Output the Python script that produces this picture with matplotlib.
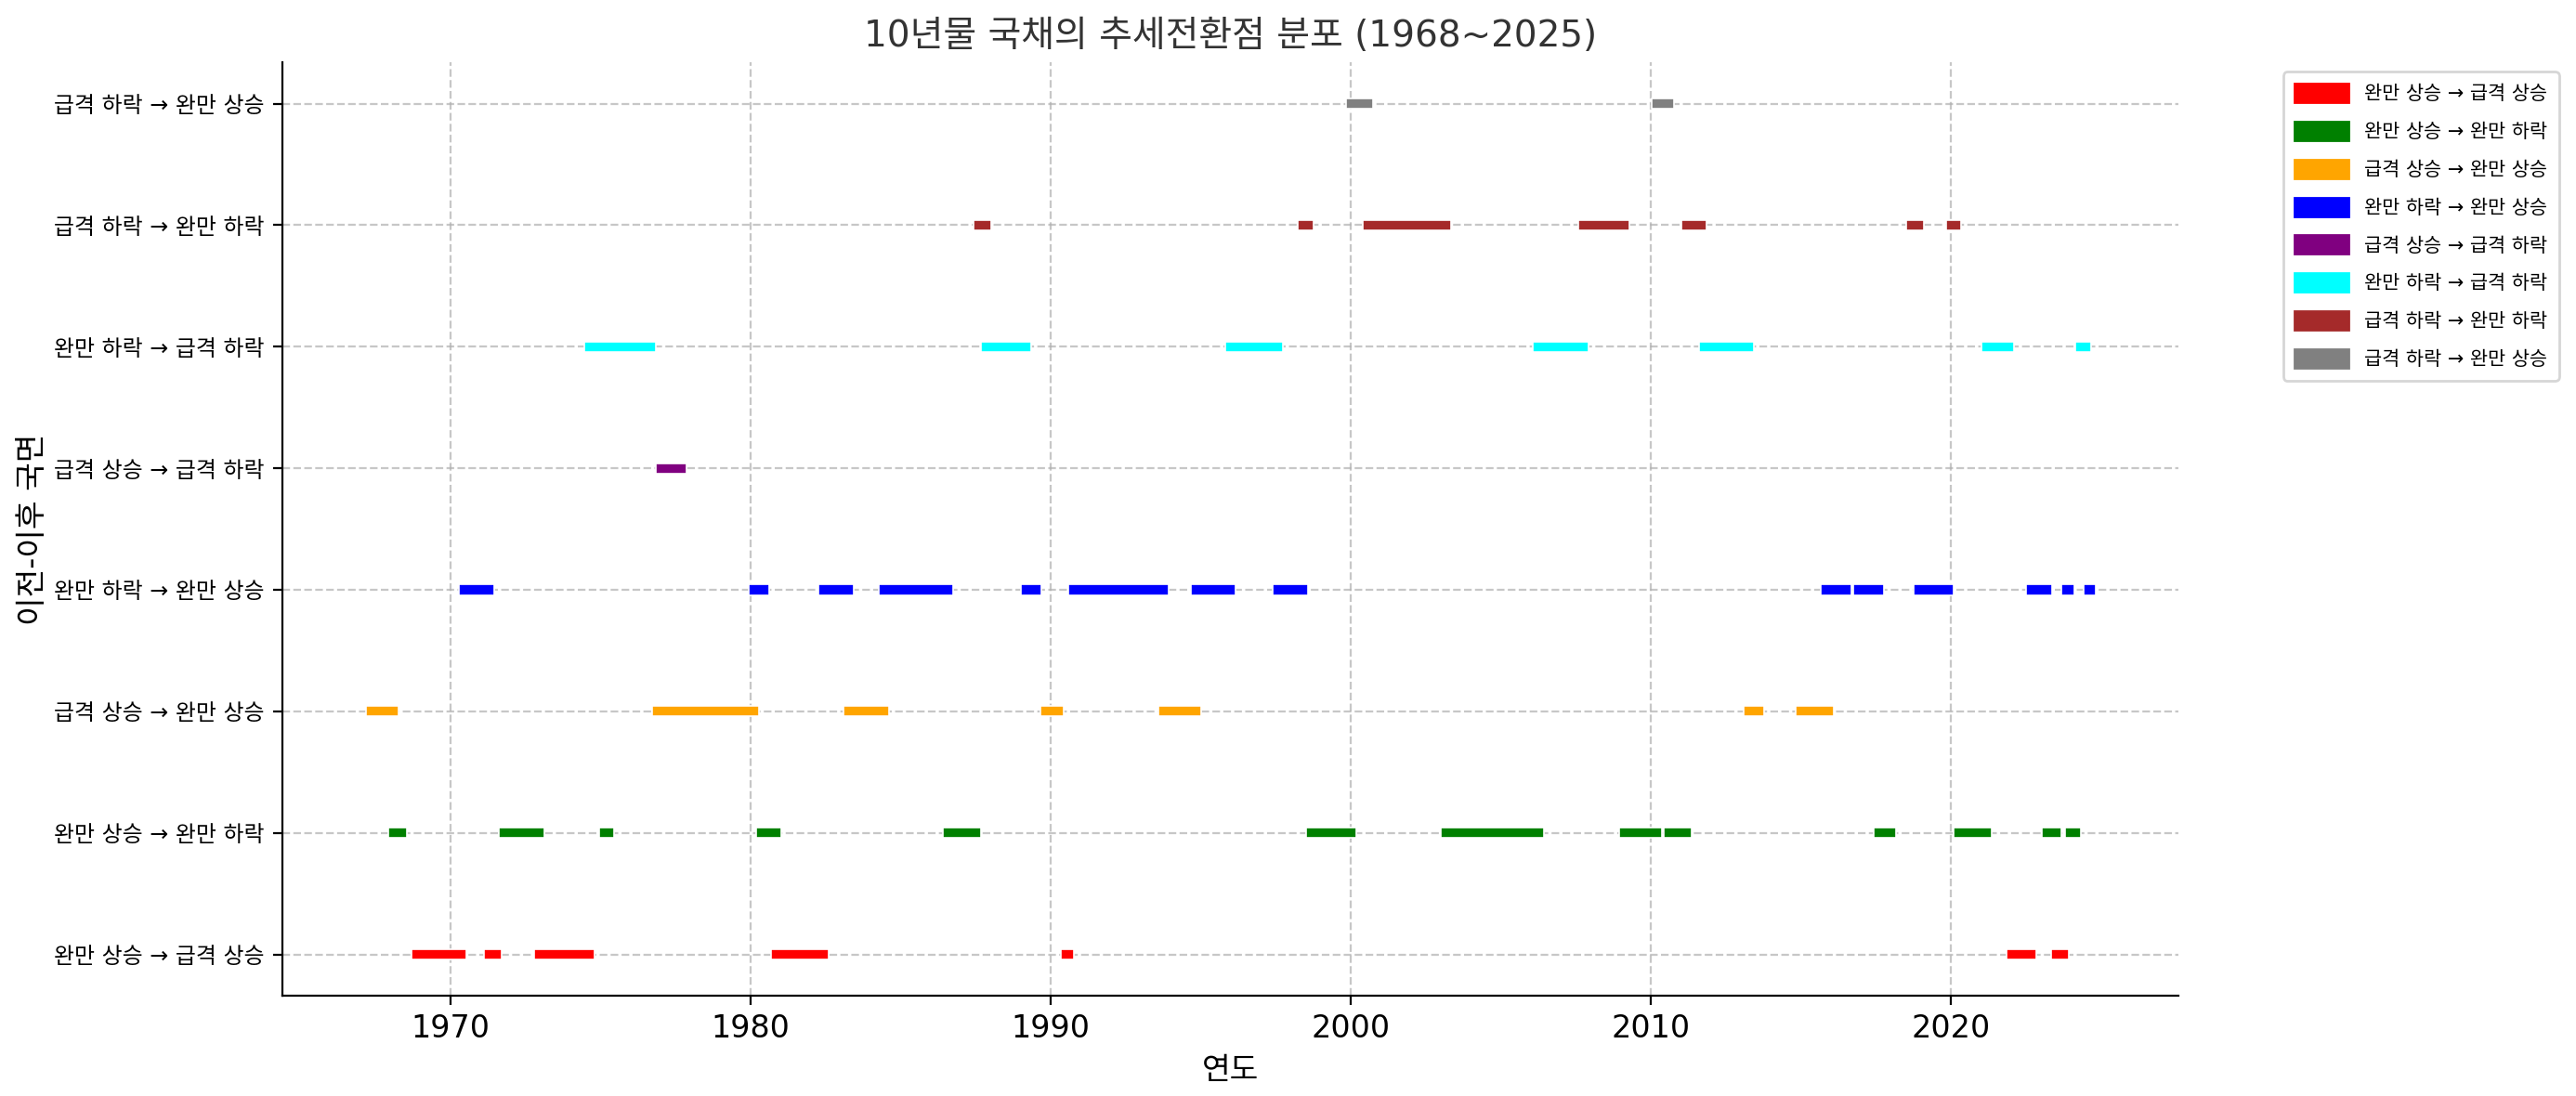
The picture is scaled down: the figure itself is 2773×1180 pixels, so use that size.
"""
10-year bond yield: timeline of trend-regime transitions, 1968-2025.
"""
import matplotlib.pyplot as plt
from matplotlib.patches import Patch

plt.rcParams["font.family"] = ["DejaVu Sans", "Noto Sans CJK KR"]

# ── transition types (bottom row first) ─────────────────────────────
TRANSITIONS = [
    "완만 상승 → 급격 상승",
    "완만 상승 → 완만 하락",
    "급격 상승 → 완만 상승",
    "완만 하락 → 완만 상승",
    "급격 상승 → 급격 하락",
    "완만 하락 → 급격 하락",
    "급격 하락 → 완만 하락",
    "급격 하락 → 완만 상승",
]
COLORS = ["red", "green", "orange", "blue", "purple", "cyan", "brown", "gray"]

# ── periods (start year, end year) per transition type ──────────────
SPANS_0 = [(1968.71, 1970.53), (1971.11, 1971.71), (1972.79, 1974.80),
           (1980.69, 1982.61), (1990.35, 1990.79), (2021.86, 2022.85),
           (2023.34, 2023.93)]
SPANS_1 = [(1967.93, 1968.56), (1971.62, 1973.13), (1974.95, 1975.45),
           (1980.20, 1981.03), (1986.43, 1987.69), (1998.51, 2000.20),
           (2003.00, 2006.44), (2008.95, 2010.38), (2010.43, 2011.36),
           (2017.45, 2018.19), (2020.11, 2021.37), (2023.03, 2023.68),
           (2023.83, 2024.36)]
SPANS_2 = [(1967.20, 1968.27), (1976.71, 1980.29), (1983.10, 1984.62),
           (1989.67, 1990.45), (1993.59, 1995.01), (2013.10, 2013.78),
           (2014.85, 2016.11)]
SPANS_3 = [(1970.29, 1971.45), (1979.95, 1980.63), (1982.27, 1983.44),
           (1984.28, 1986.77), (1989.02, 1989.70), (1990.60, 1993.93),
           (1994.67, 1996.18), (1997.42, 1998.59), (2015.69, 2016.71),
           (2016.77, 2017.79), (2018.78, 2020.11), (2022.51, 2023.37),
           (2023.68, 2024.12), (2024.43, 2024.85)]
SPANS_4 = [(1976.86, 1977.88)]
SPANS_5 = [(1974.46, 1976.86), (1987.69, 1989.36), (1995.84, 1997.76),
           (2006.09, 2007.93), (2011.62, 2013.44), (2021.03, 2022.11),
           (2024.17, 2024.70)]
SPANS_6 = [(1987.45, 1988.03), (1998.25, 1998.78), (2000.42, 2003.34),
           (2007.60, 2009.29), (2011.02, 2011.86), (2018.53, 2019.12),
           (2019.85, 2020.35)]
SPANS_7 = [(1999.86, 2000.76), (2010.03, 2010.78)]

ALL_SPANS = [SPANS_0, SPANS_1, SPANS_2, SPANS_3,
             SPANS_4, SPANS_5, SPANS_6, SPANS_7]


def main():
    fig = plt.figure(figsize=(2773 / 200, 1180 / 200), dpi=200)
    ax = fig.add_axes([0.1096, 0.0915, 0.7361, 0.8517])

    bar_h = 0.085
    for i, spans in enumerate(ALL_SPANS):
        segs = [(s, e - s) for s, e in spans]
        ax.broken_barh(segs, (i - bar_h / 2, bar_h), facecolors=COLORS[i],
                       edgecolor="white", linewidth=0.6, zorder=3)

    ax.set_yticks(range(len(TRANSITIONS)))
    ax.set_yticklabels(TRANSITIONS, fontsize=8.6)
    ax.tick_params(axis="x", labelsize=12)
    ax.set_xlim(1964.4, 2027.6)
    ax.set_ylim(-0.34, 7.34)

    ax.grid(True, linestyle="--", alpha=0.7, zorder=0)
    ax.set_axisbelow(True)
    for spine in ["top", "right"]:
        ax.spines[spine].set_visible(False)

    ax.set_xlabel("연도", fontsize=12)
    ax.set_ylabel("이전-이후 국면", fontsize=12, labelpad=2)
    ax.set_title("10년물 국채의 추세전환점 분포 (1968~2025)", fontsize=14,
                 color="#333333")

    handles = [Patch(color=c, label=t) for c, t in zip(COLORS, TRANSITIONS)]
    ax.legend(handles=handles, bbox_to_anchor=(1.05, 1), loc="upper left",
              fontsize=7.5, handlelength=2.8, handleheight=1.1,
              labelspacing=0.95, borderpad=0.6)

    fig.savefig("out.png", dpi=200)


if __name__ == "__main__":
    main()
